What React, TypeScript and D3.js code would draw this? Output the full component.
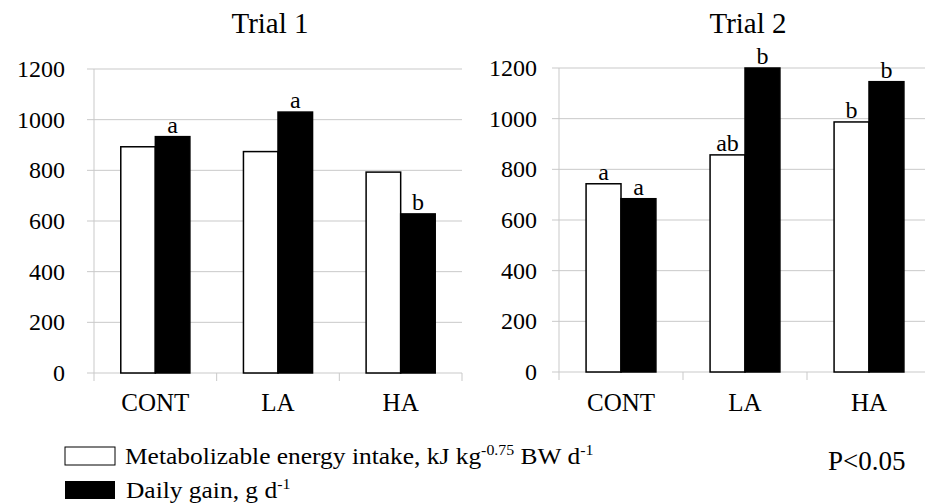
import React, { useRef, useEffect } from "react";
import * as d3 from "d3";

const categories = ["CONT", "LA", "HA"];
const yTicks = [0, 200, 400, 600, 800, 1000, 1200];

// Trial 1
const trial1Energy = [893, 874, 793];
const trial1Gain = [933, 1030, 628];
const trial1EnergyLetters = ["", "", ""];
const trial1GainLetters = ["a", "a", "b"];

// Trial 2
const trial2Energy = [743, 857, 987];
const trial2Gain = [684, 1200, 1146];
const trial2EnergyLetters = ["a", "ab", "b"];
const trial2GainLetters = ["a", "b", "b"];

const FONT = "Liberation Serif, Times New Roman, DejaVu Serif, serif";
const GRID = "#c9c9c9";

type PanelOpts = {
  title: string;
  titleX: number;
  left: number;
  right: number;
  top: number;
  bottom: number;
  labelX: number;
  energy: number[];
  gain: number[];
  energyLetters: string[];
  gainLetters: string[];
};

const drawPanel = (svg: any, o: PanelOpts) => {
  const g = svg.append("g");

  const x = d3.scaleBand().domain(categories).range([o.left, o.right]).padding(0);
  const inner = d3
    .scaleBand()
    .domain(["energy", "gain"])
    .range([0, x.bandwidth()])
    .paddingInner(0)
    .paddingOuter(0.775);
  const y = d3.scaleLinear().domain([0, 1200]).range([o.bottom, o.top]);

  // title
  g.append("text")
    .attr("x", o.titleX)
    .attr("y", 33)
    .attr("text-anchor", "middle")
    .attr("font-size", 29)
    .text(o.title);

  // gridlines + y tick labels
  yTicks.forEach((t) => {
    g.append("line")
      .attr("x1", o.left - 7)
      .attr("x2", o.right)
      .attr("y1", y(t))
      .attr("y2", y(t))
      .attr("stroke", GRID)
      .attr("stroke-width", 1);
    g.append("text")
      .attr("x", o.labelX)
      .attr("y", y(t))
      .attr("dy", "0.34em")
      .attr("text-anchor", "end")
      .attr("font-size", 24)
      .text(t);
  });

  // y axis line
  g.append("line")
    .attr("x1", o.left)
    .attr("x2", o.left)
    .attr("y1", o.top)
    .attr("y2", o.bottom + 8)
    .attr("stroke", GRID);

  // category ticks at band edges
  categories.forEach((c) => {
    const xe = (x(c) as number) + x.bandwidth();
    g.append("line")
      .attr("x1", xe)
      .attr("x2", xe)
      .attr("y1", o.bottom)
      .attr("y2", o.bottom + 8)
      .attr("stroke", GRID);
    g.append("text")
      .attr("x", (x(c) as number) + x.bandwidth() / 2)
      .attr("y", 411)
      .attr("text-anchor", "middle")
      .attr("font-size", 25)
      .text(c);
  });

  // bars
  const series = [
    { key: "energy", values: o.energy, letters: o.energyLetters, fill: "#ffffff" },
    { key: "gain", values: o.gain, letters: o.gainLetters, fill: "#000000" },
  ];
  series.forEach((s) => {
    categories.forEach((c, i) => {
      const bx = (x(c) as number) + (inner(s.key) as number);
      g.append("rect")
        .attr("x", bx)
        .attr("y", y(s.values[i]))
        .attr("width", inner.bandwidth())
        .attr("height", o.bottom - y(s.values[i]))
        .attr("fill", s.fill)
        .attr("stroke", "#000")
        .attr("stroke-width", 1.5);
      if (s.letters[i]) {
        g.append("text")
          .attr("x", bx + inner.bandwidth() / 2)
          .attr("y", y(s.values[i]) - 4)
          .attr("text-anchor", "middle")
          .attr("font-size", 24)
          .text(s.letters[i]);
      }
    });
  });
};

const App = () => {
  const svgRef = useRef<SVGSVGElement>(null);

  useEffect(() => {
    const svg = d3.select(svgRef.current);
    svg.selectAll("*").remove();

    drawPanel(svg, {
      title: "Trial 1",
      titleX: 270,
      left: 94,
      right: 462,
      top: 69,
      bottom: 373,
      labelX: 65,
      energy: trial1Energy,
      gain: trial1Gain,
      energyLetters: trial1EnergyLetters,
      gainLetters: trial1GainLetters,
    });

    drawPanel(svg, {
      title: "Trial 2",
      titleX: 748,
      left: 559,
      right: 931,
      top: 68,
      bottom: 372,
      labelX: 537,
      energy: trial2Energy,
      gain: trial2Gain,
      energyLetters: trial2EnergyLetters,
      gainLetters: trial2GainLetters,
    });

    // legend
    const legend = svg.append("g");
    legend
      .append("rect")
      .attr("x", 65)
      .attr("y", 447)
      .attr("width", 50)
      .attr("height", 18)
      .attr("fill", "#fff")
      .attr("stroke", "#000")
      .attr("stroke-width", 1);
    legend
      .append("rect")
      .attr("x", 65)
      .attr("y", 481)
      .attr("width", 50)
      .attr("height", 18)
      .attr("fill", "#000");

    const t1 = legend
      .append("text")
      .attr("transform", "translate(125,464) scale(1.06,1)")
      .attr("font-size", 24);
    t1.append("tspan").text("Metabolizable energy intake, kJ kg");
    t1.append("tspan").attr("dy", -9).attr("font-size", 15).text("-0.75");
    t1.append("tspan").attr("dy", 9).text(" BW d");
    t1.append("tspan").attr("dy", -9).attr("font-size", 15).text("-1");

    const t2 = legend
      .append("text")
      .attr("transform", "translate(126,498) scale(1.06,1)")
      .attr("font-size", 24);
    t2.append("tspan").text("Daily gain, g d");
    t2.append("tspan").attr("dy", -9).attr("font-size", 15).text("-1");

    svg
      .append("text")
      .attr("x", 828)
      .attr("y", 470)
      .attr("font-size", 27)
      .text("P<0.05");
  }, []);

  return (
    <svg
      ref={svgRef}
      width={925}
      height={503}
      fontFamily={FONT}
      style={{ position: "absolute", left: 0, top: 0, background: "#fff" }}
    />
  );
};

export default App;
